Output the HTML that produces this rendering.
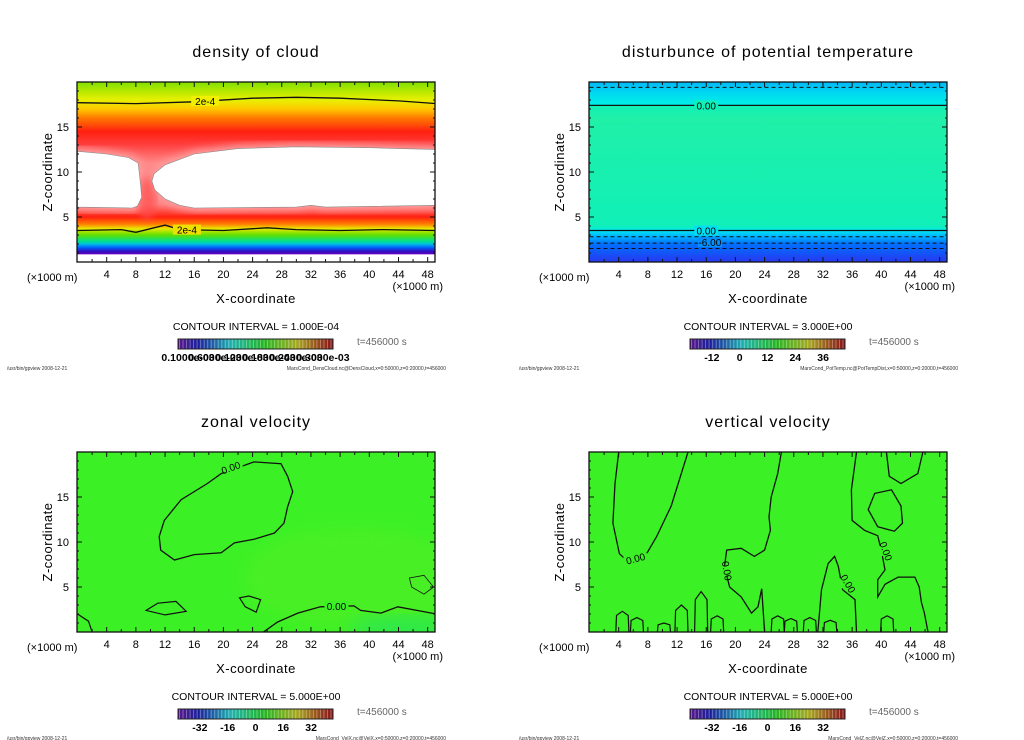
<!DOCTYPE html>
<html><head><meta charset="utf-8">
<style>
html,body{margin:0;padding:0;background:#fff;width:1024px;height:740px;overflow:hidden}
svg{display:block;font-family:"Liberation Sans",sans-serif}
.title{font-size:16px;letter-spacing:1px}
.tick{font-size:11px}
.foot{font-size:5px;fill:#333}
</style></head><body>
<svg id="chart" width="1024" height="740" viewBox="0 0 1024 740" xmlns="http://www.w3.org/2000/svg">
<defs>
<linearGradient id="gCloud" x1="0" y1="0" x2="0" y2="1">
<stop offset="0" stop-color="#80e000"/><stop offset="0.1" stop-color="#e8f000"/>
<stop offset="0.15" stop-color="#ffc800"/><stop offset="0.2" stop-color="#ff7a00"/>
<stop offset="0.275" stop-color="#ff2010"/><stop offset="0.35" stop-color="#ff4040"/>
<stop offset="0.45" stop-color="#ff8888"/><stop offset="0.68" stop-color="#ff8080"/>
<stop offset="0.75" stop-color="#ff2010"/><stop offset="0.79" stop-color="#ff8000"/>
<stop offset="0.815" stop-color="#e8e800"/><stop offset="0.85" stop-color="#60e000"/>
<stop offset="0.885" stop-color="#00e090"/><stop offset="0.9" stop-color="#00c0e0"/>
<stop offset="0.92" stop-color="#0060ff"/><stop offset="0.94" stop-color="#3010c0"/>
<stop offset="0.955" stop-color="#6000c0"/><stop offset="0.96" stop-color="#ffffff"/>
<stop offset="1" stop-color="#ffffff"/>
</linearGradient>
<linearGradient id="gTemp" x1="0" y1="0" x2="0" y2="1">
<stop offset="0" stop-color="#00b8f8"/><stop offset="0.06" stop-color="#00d8f0"/>
<stop offset="0.13" stop-color="#00f0e8"/><stop offset="0.131" stop-color="#10f0b8"/>
<stop offset="0.2" stop-color="#20f0a8"/><stop offset="0.8" stop-color="#10f0b8"/>
<stop offset="0.825" stop-color="#00e8f0"/><stop offset="0.86" stop-color="#00b0ff"/>
<stop offset="0.9" stop-color="#0070ff"/><stop offset="1" stop-color="#2838f0"/>
</linearGradient>
<filter id="blur4"><feGaussianBlur stdDeviation="4"/></filter>
<filter id="blur8"><feGaussianBlur stdDeviation="8"/></filter>
</defs>
<g id="root"></g>
</svg>
<script>
// ---- data ----
var xTicks = [4, 8, 12, 16, 20, 24, 28, 32, 36, 40, 44, 48];
var zTicks = [5, 10, 15];
var titles = ["density of cloud", "disturbunce of potential temperature", "zonal velocity", "vertical velocity"];
var intervals = ["CONTOUR INTERVAL = 1.000E-04", "CONTOUR INTERVAL = 3.000E+00", "CONTOUR INTERVAL = 5.000E+00", "CONTOUR INTERVAL = 5.000E+00"];
var files = ["MarsCond_DensCloud.nc@DensCloud,x=0:50000,z=0:20000,t=456000", "MarsCond_PotTemp.nc@PotTempDist,x=0:50000,z=0:20000,t=456000", "MarsCond_VelX.nc@VelX,x=0:50000,z=0:20000,t=456000", "MarsCond_VelZ.nc@VelZ,x=0:50000,z=0:20000,t=456000"];
var cbLabelsTemp = ["-12", "0", "12", "24", "36"];
var cbValsTemp = [-12, 0, 12, 24, 36];
var cbLabelsVel = ["-32", "-16", "0", "16", "32"];
var cbValsVel = [-32, -16, 0, 16, 32];
var cbLabelsCloud = ["0.1000e-03", "0.6000e-03", "0.1200e-03", "0.1800e-03", "0.2400e-03", "0.3000e-03"];
var cloudLeftLobe = [[0,12.3],[4,12.0],[7,11.6],[8.3,11],[8.6,9],[8.8,7.2],[8.2,6.2],[7.5,6],[0,6.1]];
var cloudRightLobe = [[49.2,12.5],[44,12.6],[40,12.7],[30,12.8],[22,12.6],[16,12],[12,10.8],[10.5,9.8],[10.2,9],[10.6,8],[12,7],[14,6.3],[16,6],[30,6.1],[32,6.3],[34,6.1],[49.2,6.3]];
var cloudUpper2e4 = [[0,17.7],[8,17.6],[16,17.8],[24,18.2],[30,18.3],[36,18.2],[44,17.9],[49.2,17.6]];
var cloudLower2e4 = [[0,3.5],[6,3.6],[8,3.3],[12,4.1],[14,3.6],[20,3.5],[26,3.8],[30,3.6],[36,3.5],[42,3.6],[49.2,3.5]];
var tempSolid = [17.4, 3.5];
var tempDashed = [19.4, 2.8, 2.1, 1.5];
var velXBlob = [[19.7,17.6],[24.2,18.9],[27.9,18.7],[28.8,17.3],[29.5,15.6],[28.8,13.9],[28.3,12.1],[27.0,11.0],[24.2,10.3],[21.5,9.9],[19.7,8.8],[16.0,8.6],[13.3,8.0],[11.4,9.1],[11.2,10.6],[11.9,12.4],[14.2,14.7],[17.8,16.5]];
var velXBottom = [[25.5,0],[27.4,1.1],[30.2,2.1],[33.3,2.8],[37.9,2.9],[38.8,2.4],[41.6,2.1],[43.9,2.8],[49.2,2.0]];
var velXSmall1 = [[9.4,2.4],[11,3.2],[13.5,3.4],[14.9,2.3],[12,1.9]];
var velXSmall2 = [[22.2,3.8],[23.5,4.0],[25.1,3.6],[24.5,2.2],[23,2.8]];
var velXSmall3 = [[45.5,6],[47.5,6.3],[48.8,5],[47.5,4.2],[45.8,5]];
var velZA = [[4.0,20],[3.5,16.5],[3.2,12.1],[4.1,8.7],[5.3,7.8],[7.6,8.4],[9.2,10.6],[11.2,14.0],[13.5,20]];
var velZB = [[26.3,20],[25.8,17.6],[24.9,15.0],[24.6,12.8],[24.8,11.3],[24.0,9.1],[22.6,8.4],[20.8,9.3],[18.8,9.1],[18.5,7.3],[19.2,5.0],[20.8,3.9],[22.2,2.1],[23.1,2.8],[23.6,4.8],[24.0,0]];
var velZC = [[36.6,20],[35.9,15.8],[36.0,12.4],[37.7,11.3],[39.5,10.7],[40.0,9.1],[40.5,6.9],[39.5,5.8],[39.5,3.9],[40.5,5.3],[42.3,6.1],[44.6,6.1],[45.2,5.0],[45.5,3.3],[45.9,2.1],[46.4,0]];
var velZD = [[40.7,20],[41.1,17.3],[42.7,16.5],[45.0,17.6],[45.7,20]];
var velZE = [[38.2,13.6],[39.1,15.4],[41.4,15.8],[42.7,14.0],[42.9,12.1],[41.8,11.2],[39.5,11.7]];
var velZF = [[31.3,0],[31.8,4.7],[32.7,7.6],[33.6,8.4],[34.1,7.3],[34.7,4.7],[36.4,3.6],[36.6,0]];
var velZBumpX = [4.5, 6.5, 10.2, 12.6, 15.3, 17.5, 25.8, 27.6, 30.2, 33.0, 40.8];
var velZBumpH = [2.3, 1.6, 1.0, 3.0, 4.5, 1.8, 1.8, 1.5, 1.6, 1.3, 1.8];

var NS = "http://www.w3.org/2000/svg";
var root = document.getElementById("root");
function mk(tag, attrs, parent) {
  var e = document.createElementNS(NS, tag);
  for (var k in attrs) e.setAttribute(k, attrs[k]);
  (parent || root).appendChild(e);
  return e;
}
function txt(s, attrs, parent) { var t = mk("text", attrs, parent); t.textContent = s; return t; }

var PW = 358, PH = 180, XMAX = 49.2;
function axes(ox, oy) {
  return {
    sx: function (x) { return ox + (x + 0.07) * 7.295; },
    sy: function (z) { return oy + PH - z * 9; }
  };
}
function pathFrom(pts, A, close) {
  var d = "";
  for (var i = 0; i < pts.length; i++) d += (i ? "L" : "M") + A.sx(pts[i][0]).toFixed(1) + "," + A.sy(pts[i][1]).toFixed(1);
  return d + (close ? "Z" : "");
}
function colorbar(g, x0, y0, w, n) {
  for (var i = 0; i < n; i++) {
    var f = i / (n - 1);
    var hue = 270 - f * 270;
    var l = 32 + 10 * Math.sin(f * Math.PI);
    var r = mk("rect", { x: (x0 + i * w / n).toFixed(2), y: y0, width: (w / n + 0.3).toFixed(2), height: 10, fill: "hsl(" + hue + ",70%," + l + "%)" }, g);
    
    
    mk("line", { x1: x0 + i * w / n + 1.5, y1: y0, x2: x0 + i * w / n + 1.5, y2: y0 + 10, stroke: "rgba(255,255,255,0.35)", "stroke-width": 1 }, g);
  }
  mk("rect", { x: x0, y: y0, width: w, height: 10, fill: "none", stroke: "#222", "stroke-width": 1 }, g);
}

function panel(idx, ox, oy) {
  var g = mk("g", {});
  
  
  var A = axes(ox, oy);
  var cx = ox + 179;
  var t = txt(titles[idx], { x: cx, y: oy - 25, "text-anchor": "middle", "class": "title" }, g);
  
  
  var clip = mk("clipPath", { id: "clip" + idx }, g);
  mk("rect", { x: ox, y: oy, width: PW, height: PH }, clip);
  var plot = mk("g", { "clip-path": "url(#clip" + idx + ")" }, g);
  
  
  return { g: g, plot: plot, A: A, ox: ox, oy: oy, cx: cx };
}
function finish(P, idx, cbDraw) {
  var g = P.g, A = P.A, ox = P.ox, oy = P.oy, cx = P.cx;
  mk("rect", { x: ox, y: oy, width: PW, height: PH, fill: "none", stroke: "#111", "stroke-width": 1.3 }, g);
  for (var x = 1; x <= 49; x++) {
    var major = x % 4 === 0, len = major ? 5 : (x % 2 === 0 ? 3 : 0);
    if (!len) continue;
    mk("line", { x1: A.sx(x), y1: oy + PH, x2: A.sx(x), y2: oy + PH - len, stroke: "#111" }, g);
    mk("line", { x1: A.sx(x), y1: oy, x2: A.sx(x), y2: oy + len, stroke: "#111" }, g);
  }
  for (var z = 1; z <= 19; z++) {
    var mj = z % 5 === 0, l2 = mj ? 5 : 2;
    mk("line", { x1: ox, y1: A.sy(z), x2: ox + l2, y2: A.sy(z), stroke: "#111" }, g);
    mk("line", { x1: ox + PW, y1: A.sy(z), x2: ox + PW - l2, y2: A.sy(z), stroke: "#111" }, g);
  }
  xTicks.forEach(function (v) {
    var t = txt(String(v), { x: A.sx(v), y: oy + PH + 16, "text-anchor": "middle", "class": "tick" }, g);
    
    
  });
  zTicks.forEach(function (v) {
    var t = txt(String(v), { x: ox - 8, y: A.sy(v) + 4, "text-anchor": "end", "class": "tick" }, g);
    
    
  });
  var u1 = txt("(\u00d71000 m)", { x: ox - 50, y: oy + PH + 19, "class": "tick" }, g);
  
  
  var u2 = txt("(\u00d71000 m)", { x: ox + PW + 8, y: oy + PH + 28, "text-anchor": "end", "class": "tick" }, g);
  
  
  var xt = txt("X-coordinate", { x: cx, y: oy + PH + 41, "text-anchor": "middle", style: "font-size:13px;letter-spacing:0.5px" }, g);
  
  
  var yt = txt("Z-coordinate", { x: 0, y: 0, "text-anchor": "middle", style: "font-size:13px;letter-spacing:0.5px", transform: "translate(" + (ox - 25) + "," + (oy + 90) + ") rotate(-90)" }, g);
  
  
  var ci = txt(intervals[idx], { x: cx, y: oy + PH + 68, "text-anchor": "middle", style: "font-size:10.5px" }, g);
  
  
  var cbg = mk("g", {}, g);
  
  
  colorbar(cbg, ox + 101, oy + PH + 77, 155, 44);
  cbDraw(cbg, ox + 101, oy + PH + 99);
  var tl = txt("t=456000 s", { x: ox + 280, y: oy + PH + 83, style: "font-size:10px;fill:#666" }, g);
  
  
  var f1 = txt("/usr/bin/gpview    2008-12-21", { x: ox - 70, y: oy + PH + 108, "class": "foot" }, g);
  
  
  var f2 = txt(files[idx], { x: ox + PW + 11, y: oy + PH + 108, "text-anchor": "end", "class": "foot" }, g);
  
  
}
function tickLabels(labels, vals, lo, hi) {
  return function (g, x0, y) {
    labels.forEach(function (s, i) {
      var x = x0 + 8 + (vals[i] - lo) / (hi - lo) * 139;
      var t = txt(s, { x: x, y: y, "text-anchor": "middle", style: "font-size:10.5px;font-weight:bold" }, g);
      
      
    });
  };
}
function contour(P, pts, close, w, dash, name) {
  var p = mk("path", { d: pathFrom(pts, P.A, close), fill: "none", stroke: "#111", "stroke-width": w || 1.3, "stroke-dasharray": dash || "none" }, P.plot);
  
  
  return p;
}
function clabel(P, s, x, z, rot) {
  var A = P.A;
  mk("rect", { x: A.sx(x) - 12, y: A.sy(z) - 5, width: 24, height: 10, fill: P.labelBg || "none" }, P.plot);
  var t = txt(s, { x: A.sx(x), y: A.sy(z) + 4, "text-anchor": "middle", style: "font-size:10px", transform: rot ? "rotate(" + rot + " " + A.sx(x) + " " + A.sy(z) + ")" : "" }, P.plot);
  
  
}

// ---- panel 1 ----
var P1 = panel(0, 77, 82);
mk("rect", { x: 77, y: 82, width: PW, height: PH, fill: "url(#gCloud)" }, P1.plot);
mk("path", { d: pathFrom(cloudLeftLobe, P1.A, true), fill: "#ffb0b0", stroke: "#ff9898", "stroke-width": 8, filter: "url(#blur4)" }, P1.plot);
mk("path", { d: pathFrom(cloudRightLobe, P1.A, true), fill: "#ffb0b0", stroke: "#ff9898", "stroke-width": 8, filter: "url(#blur4)" }, P1.plot);
mk("ellipse", { cx: P1.A.sx(9.5), cy: P1.A.sy(7), rx: 9, ry: 22, fill: "#ff5050", opacity: 0.7, filter: "url(#blur4)" }, P1.plot);
var wl = mk("path", { d: pathFrom(cloudLeftLobe, P1.A, true), fill: "#fff", stroke: "#888", "stroke-width": 0.6 }, P1.plot);


var wr = mk("path", { d: pathFrom(cloudRightLobe, P1.A, true), fill: "#fff", stroke: "#888", "stroke-width": 0.6 }, P1.plot);


contour(P1, cloudUpper2e4, false, 1.3, null, 'contour-2e-4-upper');
contour(P1, cloudLower2e4, false, 1.3, null, 'contour-2e-4-lower');
mk("rect", { x: P1.A.sx(17.5) - 14, y: P1.A.sy(17.9) - 5, width: 28, height: 10, fill: "#f0f000" }, P1.plot);
txt("2e-4", { x: P1.A.sx(17.5), y: P1.A.sy(17.9) + 4, "text-anchor": "middle", style: "font-size:10px" }, P1.plot);
mk("rect", { x: P1.A.sx(15) - 14, y: P1.A.sy(3.6) - 5, width: 28, height: 10, fill: "#f0e000" }, P1.plot);
txt("2e-4", { x: P1.A.sx(15), y: P1.A.sy(3.6) + 4, "text-anchor": "middle", style: "font-size:10px" }, P1.plot);
finish(P1, 0, function (g, x0, y) {
  cbLabelsCloud.forEach(function (s, i) {
    var t = txt(s, { x: x0 + 10 + i * 27, y: y, "text-anchor": "middle", style: "font-size:10.5px;font-weight:bold" }, g);
    
    
  });
});

// ---- panel 2 ----
var P2 = panel(1, 589, 82);
mk("rect", { x: 589, y: 82, width: PW, height: PH, fill: "url(#gTemp)" }, P2.plot);
tempSolid.forEach(function (z) { contour(P2, [[0, z], [XMAX, z]], false, 1.3, null, 'contour-zero'); });
tempDashed.forEach(function (z) { contour(P2, [[0, z], [XMAX, z]], false, 1, "4,3", 'contour-negative'); });
P2.labelBg = "#10f0b8";
clabel(P2, "0.00", 16, 17.4);
P2.labelBg = "#00e0f0";
clabel(P2, "0.00", 16, 3.5);
P2.labelBg = "#0090ff";
clabel(P2, "-6.00", 16.5, 2.2);
finish(P2, 1, tickLabels(cbLabelsTemp, cbValsTemp, -18, 42));

// ---- panel 3 ----
var P3 = panel(2, 77, 452);
mk("rect", { x: 77, y: 452, width: PW, height: PH, fill: "#3cf026" }, P3.plot);
mk("ellipse", { cx: P3.A.sx(38), cy: P3.A.sy(6), rx: 110, ry: 50, fill: "#60ee22", opacity: 0.35, filter: "url(#blur8)" }, P3.plot);
mk("ellipse", { cx: P3.A.sx(44), cy: P3.A.sy(0.5), rx: 50, ry: 12, fill: "#20e070", opacity: 0.5, filter: "url(#blur8)" }, P3.plot);
contour(P3, velXBlob, true, 1.3, null, 'contour-zero-blob');
contour(P3, velXBottom, false, 1.3, null, 'contour-zero-bottom');
contour(P3, velXSmall1, true, 1.2);
contour(P3, velXSmall2, true, 1.2);
contour(P3, velXSmall3, true, 0.8);
contour(P3, [[0, 2], [1.5, 1.2], [2, 0]], false, 1.2);
P3.labelBg = "#3cf026";
clabel(P3, "0.00", 21, 18.3, -20);
clabel(P3, "0.00", 35.5, 2.9);
finish(P3, 2, tickLabels(cbLabelsVel, cbValsVel, -40, 40));

// ---- panel 4 ----
var P4 = panel(3, 589, 452);
mk("rect", { x: 589, y: 452, width: PW, height: PH, fill: "#3cf026" }, P4.plot);
[velZA, velZB, velZC, velZD, velZF].forEach(function (c) { contour(P4, c, false, 1.3); });
contour(P4, velZE, true, 1.3);
velZBumpX.forEach(function (x, i) {
  var h = velZBumpH[i];
  contour(P4, [[x - 0.9, 0], [x - 0.8, h * 0.8], [x, h], [x + 0.8, h * 0.8], [x + 0.9, 0]], false, 1.2, null, 'contour-bump');
});
P4.labelBg = "#3cf026";
clabel(P4, "0.00", 6.3, 8.2, -15);
clabel(P4, "0.00", 18.9, 6.8, 80);
clabel(P4, "0.00", 35.5, 5.4, 60);
clabel(P4, "0.00", 40.7, 9.0, 70);
finish(P4, 3, tickLabels(cbLabelsVel, cbValsVel, -40, 40));
</script>
</body></html>
